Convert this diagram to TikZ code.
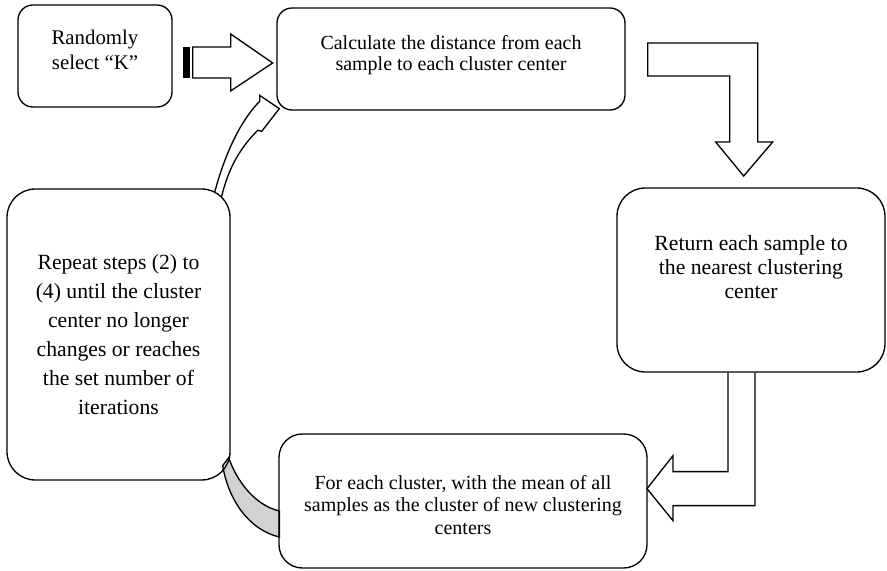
\documentclass[tikz,border=0pt]{standalone}
\usepackage{fontspec}
\setmainfont{LiberationSerif}[Extension=.ttf, UprightFont=*-Regular,
  BoldFont=*-Bold, ItalicFont=*-Italic, BoldItalicFont=*-BoldItalic]
\usetikzlibrary{calc,backgrounds}

\tikzset{
  box/.style={draw, line width=0.8pt, rounded corners=9pt, align=center, inner sep=0pt},
  blk/.style={draw, line width=0.8pt, line join=miter}
}

\begin{document}
\begin{tikzpicture}[x=0.6pt,y=-0.6pt]
  \useasboundingbox (0,0) rectangle (887,571);

  % the five steps
  \node[box, minimum width=92.4pt, minimum height=61.2pt,
    font=\fontsize{12.5}{15}\selectfont] (rand) at (95,56)
    {Randomly\\select “K”\\[-7.8pt]\mbox{}};
  \node[box, minimum width=208.8pt, minimum height=61.2pt,
    font=\fontsize{12}{13}\selectfont] (dist) at (451,59)
    {Calculate the distance from each\\sample to each cluster center\\[-5.8pt]\mbox{}};
  \node[box, rounded corners=17pt, minimum width=160.8pt, minimum height=110.4pt,
    font=\fontsize{13}{14.2}\selectfont] (assign) at (751,280)
    {Return each sample to\\the nearest clustering\\center\\[1.4pt]\mbox{}};
  \node[box, rounded corners=14pt, minimum width=220.8pt, minimum height=80.4pt,
    font=\fontsize{12}{13.5}\selectfont] (upd) at (463,501)
    {\rule{0pt}{13pt}For each cluster, with the mean of all\\samples as the cluster of new clustering\\centers};
  \node[box, rounded corners=17pt, minimum width=133.8pt, minimum height=174.6pt,
    font=\fontsize{13}{17.4}\selectfont] (rep) at (118.5,334.5)
    {Repeat steps (2) to\\(4) until the cluster\\center no longer\\changes or reaches\\the set number of\\iterations};

  % striped arrow
  \fill ($(rand.east)+(10,-9)$) rectangle ++(7,31);
  \draw[blk] ($(rand.east)+(20,-9)$) -- ++(38,0) -- ++(0,-13) -- ++(42,29)
    -- ++(-42,28) -- ++(0,-13) -- ++(-38,0) -- cycle;

  % bent arrows on the right
  \draw[blk] ($(dist.east)+(22,-16)$) -- ++(110,0) -- ++(0,99) -- ++(15,0)
    -- ++(-29,34) -- ++(-28,-34) -- ++(14,0) -- ++(0,-66) -- ++(-82,0) -- cycle;
  \draw[blk] ($(assign.south)+(-23,0)$) -- ++(0,99) -- ++(-55,0) -- ++(0,-16)
    -- ++(-26,33) -- ++(26,32) -- ++(0,-15) -- ++(82,0) -- ++(0,-133);

  % curved arrow back up
  \draw[blk] ($(rep.north east)+(-16,4)$)
    .. controls ($(rep.north east)+(-4,-41)$) and ($(rep.north east)+(13,-71)$)
    .. ($(rep.north east)+(29,-87)$) -- ++(0,-6)
    -- ($(dist.south west)+(3,-2)$)
    -- ($(rep.north east)+(31,-57)$) -- ++(-4,-1)
    .. controls ($(rep.north east)+(10,-41)$) and ($(rep.north east)+(-2,-21)$)
    .. ($(rep.north east)+(-9,8)$);

  % grey band
  \begin{scope}[on background layer]
    \draw[line width=0.8pt, fill=gray!35] ($(rep.south east)+(-2,-23)$)
      .. controls ($(rep.south east)+(6,0)$) and ($(upd.west)+(-24,4)$)
      .. ($(upd.west)+(1,10)$) -- ($(upd.west)+(1,36)$)
      .. controls ($(upd.west)+(-29,29)$) and ($(rep.south east)+(-2,20)$)
      .. ($(rep.south east)+(-8,-15)$) -- cycle;
  \end{scope}
\end{tikzpicture}
\end{document}
